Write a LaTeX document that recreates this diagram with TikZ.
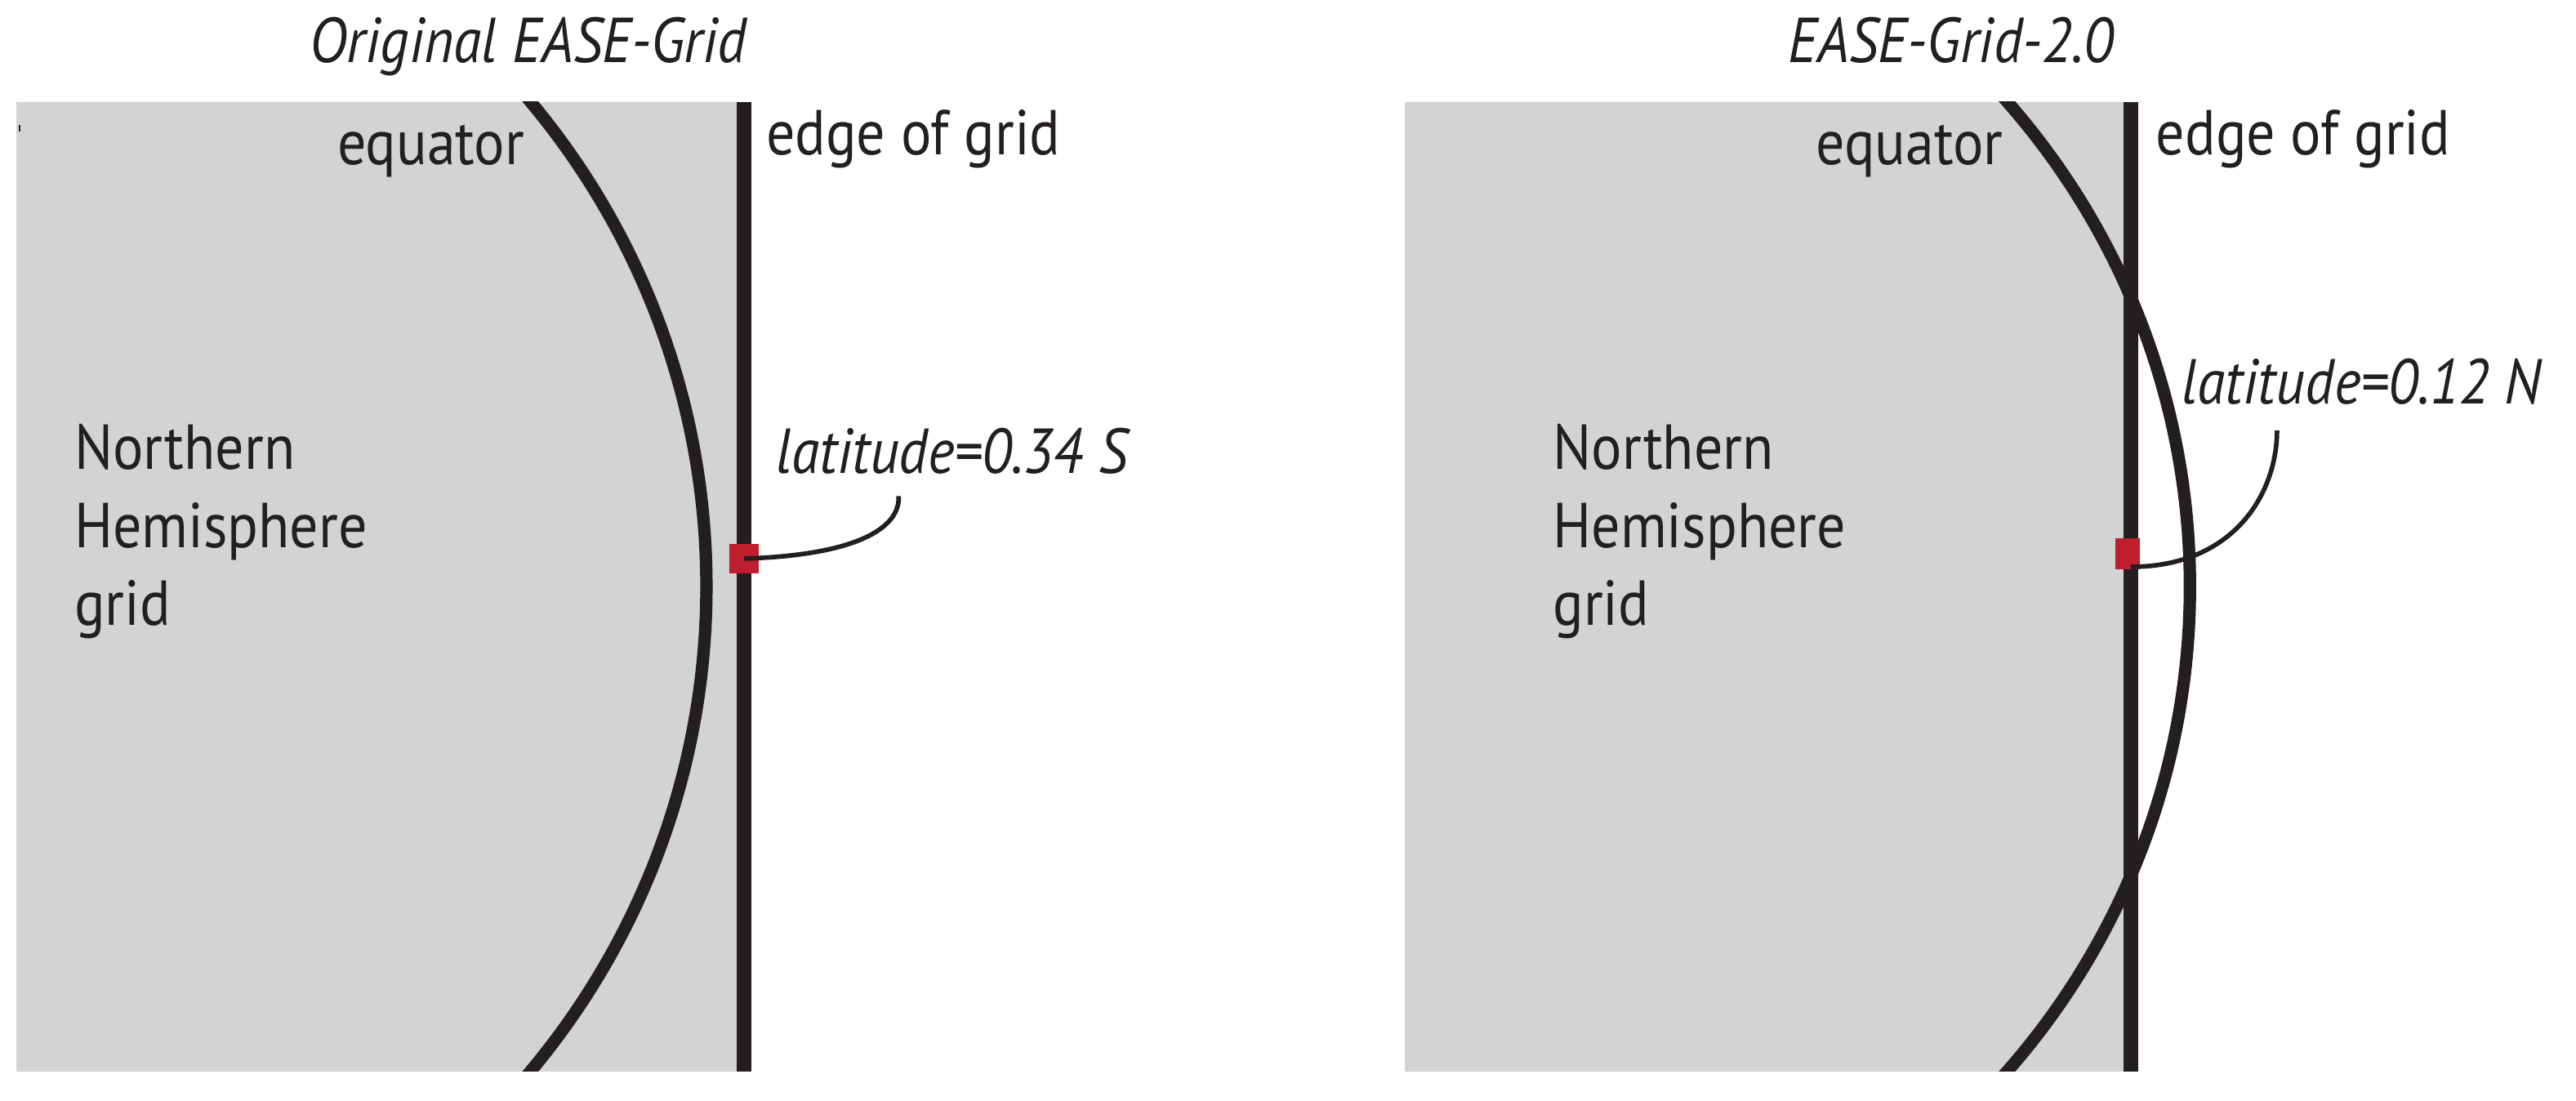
\documentclass[tikz,border=0pt]{standalone}
\usepackage{fontspec}
\setmainfont{PT Sans}[FakeStretch=0.9]
\definecolor{landgray}{RGB}{209,211,212}
\definecolor{markred}{RGB}{190,30,45}
\definecolor{ink}{RGB}{35,31,32}
\begin{document}
\begin{tikzpicture}[x=0.02cm,y=-0.02cm,
        lbl/.style={font=\fontsize{22}{27}\selectfont,text=ink,inner sep=0pt},
        ttl/.style={lbl,font=\fontsize{22}{27}\selectfont\itshape},
        edgeline/.style={ink,line width=5pt},
        eqline/.style={ink,line width=4.3pt},
        leader/.style={ink,line width=1.6pt}]
  \useasboundingbox (0,0) rectangle (1568,670);

  % left panel: original grid
  \fill[landgray] (10,62) rectangle (453,652);
  \draw[ink,line width=0.6pt] (12,76) -- (12,80);
  \begin{scope}
    \clip (0,62) rectangle (780,652);
    \draw[eqline] (-30,357) circle (460);
  \end{scope}
  \draw[edgeline] (453,62) -- (453,652);
  \node[fill=markred,minimum size=0.36cm,inner sep=0pt] (sqA) at (453,340) {};
  \node[ttl,anchor=base east] (titleA) at (455,38) {Original EASE-Grid};
  \node[lbl,anchor=base west] (eqA) at (205,100) {equator};
  \node[lbl,anchor=base west] (edgeA) at (466,94) {edge of grid};
  \node[ttl,anchor=base west] (latA) at (472,288) {latitude=0.34 S};
  \node[lbl,anchor=north west,align=left] (nhA) at (45,258) {Northern\\Hemisphere\\grid};
  \draw[leader] (sqA.center) .. controls (520,338) and (548,322) .. (547,302);

  % right panel: EASE-Grid-2.0
  \fill[landgray] (855,62) rectangle (1297,652);
  \begin{scope}
    \clip (800,62) rectangle (1568,652);
    \draw[eqline] (886,357) circle (447);
  \end{scope}
  \draw[edgeline] (1297,62) -- (1297,652);
  \node[fill=markred,minimum width=0.3cm,minimum height=0.38cm,inner sep=0pt] (sqB) at (1295,337) {};
  \node[ttl,anchor=base east] (titleB) at (1287,38) {EASE-Grid-2.0};
  \node[lbl,anchor=base west] (eqB) at (1105,100) {equator};
  \node[lbl,anchor=base west] (edgeB) at (1312,94) {edge of grid};
  \node[ttl,anchor=base west] (latB) at (1328,246) {latitude=0.12 N};
  \node[lbl,anchor=north west,align=left] (nhB) at (945,258) {Northern\\Hemisphere\\grid};
  \draw[leader] (1297,345) .. controls (1360,345) and (1386,300) .. (1386,262);
\end{tikzpicture}
\end{document}
